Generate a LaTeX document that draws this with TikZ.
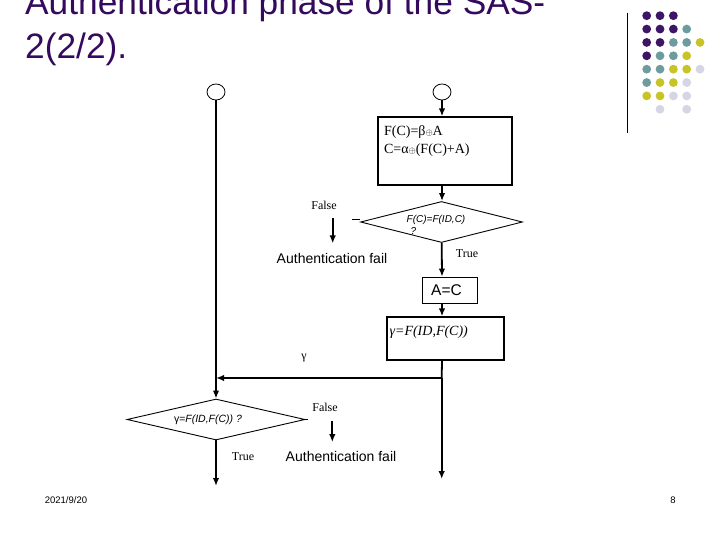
\documentclass[tikz,border=0pt]{standalone}
\usepackage{fontspec}
\setmainfont{Liberation Serif}
\setsansfont{Liberation Sans}
\usepackage{tikz}
\usetikzlibrary{shapes,arrows.meta,positioning,calc}
\definecolor{slTitle}{HTML}{330A5E}
\definecolor{dotPurple}{HTML}{3D1466}
\definecolor{dotTeal}{HTML}{6E9C9E}
\definecolor{dotOlive}{HTML}{C8C425}
\definecolor{dotLav}{HTML}{D5D5E6}
\tikzset{
    fcTerm/.style={
        ellipse,
        draw,
        line width=0.8pt,
        minimum width=18pt,
        minimum height=16pt,
        inner sep=0pt
    },
    fcProc/.style={rectangle, draw, line width=1.3pt, inner sep=0pt},
    fcDecide/.style={diamond, draw, line width=0.9pt, inner sep=0pt},
    % Texts
    fcText/.style={inner sep=0pt, font=\fontsize{14}{18.5}\selectfont, align=left},
    fcLabel/.style={inner sep=0pt, font=\fontsize{12}{12}\selectfont},
    fcFail/.style={inner sep=0pt, font=\sffamily\fontsize{14}{14}\selectfont},
    fcCond/.style={inner sep=0pt, font=\sffamily\itshape\fontsize{10}{12}\selectfont, align=left},
    % Arrows
    fcLine/.style={line width=1.8pt},
    fcFlow/.style={-{Latex[length=8pt,width=6.5pt]}, line width=1.8pt}
}

\begin{document}
\begin{tikzpicture}[x=1pt, y=-1pt]
    \clip (0,0) rectangle (720,540);
    \fill[white] (0,0) rectangle (720,540);

    % title
    \node[anchor=base west, inner sep=0pt, text=slTitle, font=\sffamily\fontsize{35.3}{42}\selectfont] (title1) at (25,15) {Authentication phase of the SAS-};
    \node[anchor=base west, inner sep=0pt, text=slTitle, font=\sffamily\fontsize{35.3}{42}\selectfont] (title2) at (25,58.3) {2(2/2).};

    % corner decoration
    \draw[line width=1pt] (627.3,12.7) -- (627.3,132.7);
    \foreach \c/\r/\col in {0/0/dotPurple, 1/0/dotPurple, 2/0/dotPurple,
        0/1/dotPurple, 1/1/dotPurple, 2/1/dotPurple, 3/1/dotTeal,
        0/2/dotPurple, 1/2/dotPurple, 2/2/dotTeal, 3/2/dotTeal, 4/2/dotOlive,
        0/3/dotPurple, 1/3/dotTeal, 2/3/dotTeal, 3/3/dotOlive,
        0/4/dotTeal, 1/4/dotTeal, 2/4/dotOlive, 3/4/dotOlive, 4/4/dotLav,
        0/5/dotTeal, 1/5/dotOlive, 2/5/dotOlive, 3/5/dotLav,
        0/6/dotOlive, 1/6/dotOlive, 2/6/dotLav, 3/6/dotLav,
        1/7/dotLav, 3/7/dotLav} {
        \fill[\col] (646.7+13.33*\c, 15.7+13.37*\r) circle (4.4);
    }

    % flowchart
    \node[fcTerm] (s1) at (216,92) {};
    \node[fcTerm] (s2) at (442,92) {};
    \node[fcProc, minimum width=134pt, minimum height=68pt] (box1) at (445,151) {};
    \node[fcText, below right=9pt and 6.5pt of box1.north west] (box1txt) {F(C)=β{\small$\oplus$}A\\C=α{\small$\oplus$}(F(C)+A)};

    \node[fcDecide, minimum width=162pt, minimum height=41pt] (dec1) at (441.5,222) {};
    \node[fcCond, anchor=north west] (dec1txt) at (406.5,215) {F(C)=F(ID,C)\\\hspace*{4pt}?};
    \node[fcLabel] (false1) at (324,205) {False};
    \node[fcFail] (fail1) at (332,258) {Authentication fail};
    \node[fcLabel] (true1) at (467,254) {True};

    \node[fcProc, minimum width=55pt, minimum height=26pt, font=\sffamily\fontsize{15.5}{15.5}\selectfont] (boxAC) at (450,290.3) {A=C\hspace*{7pt}};

    \node[fcProc, minimum width=117pt, minimum height=43pt] (box2) at (445.5,338.5) {};
    \node[fcText, font=\itshape\fontsize{14}{16}\selectfont, below right=9pt and 3pt of box2.north west] (box2txt) {γ=F(ID,F(C))};
    \node[fcLabel, font=\fontsize{12}{12}\selectfont] (gam) at (304,358) {γ};

    \node[fcDecide, minimum width=178pt, minimum height=41pt] (dec2) at (216,419.5) {};
    \node[fcCond, font=\sffamily\fontsize{10.5}{12}\selectfont] (dec2txt) at (208,420) {γ=\textit{F(ID,F(C)) ?}};
    \node[fcLabel] (false2) at (325,407.7) {False};
    \node[fcFail] (fail2) at (341,456.7) {Authentication fail};
    \node[fcLabel] (true2) at (243,457) {True};

    \coordinate (jR) at (441.7,378);
    \coordinate (jL) at (216,378);
    \coordinate (endR) at (441.7,479);
    \coordinate (endL) at (216,486);

    % connectors
    \draw[fcFlow] (s1) -- (dec2);
    \draw[fcFlow] (s2) -- (s2 |- box1.north);
    \draw[fcFlow] (s2 |- box1.south) -- (s2 |- dec1.north);
    \draw[fcFlow] (dec1) -- (s2 |- boxAC.north);
    \draw[fcFlow] (s2 |- boxAC.south) -- (s2 |- box2.north);
    \draw[fcLine] (s2 |- box2.south) -- (jR);
    \draw[fcFlow] (jR) -- (jL);
    \draw[fcFlow] (jR) -- (endR);
    \draw[fcFlow] (dec2) -- (endL);
    \draw[line width=0.9pt] ([yshift=2.5pt]dec1.west) -- ++(-8.5,0);
    \draw[line width=1.2pt] (dec2.east) -- ++(3,0);
    \draw[fcFlow] ([xshift=8.7pt,yshift=-9pt]false1.south) -- ([xshift=8.7pt,yshift=-34pt]false1.south);
    \draw[fcFlow] ([xshift=7.3pt,yshift=-9pt]false2.south) -- ([xshift=7.3pt,yshift=-30pt]false2.south);

    % footer
    \node[inner sep=0pt, font=\sffamily\fontsize{9.5}{10}\selectfont] (date) at (66,500) {2021/9/20};
    \node[inner sep=0pt, font=\sffamily\fontsize{9.5}{10}\selectfont] (page) at (673,500) {8};
\end{tikzpicture}
\end{document}
